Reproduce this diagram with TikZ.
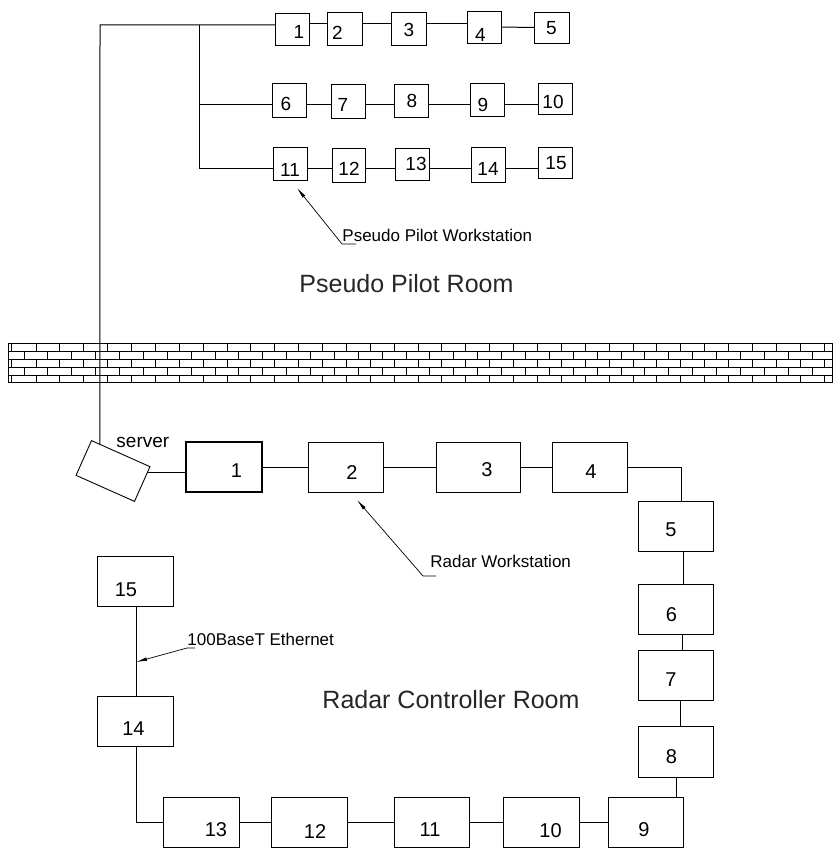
\documentclass[tikz,border=0pt]{standalone}
\usepackage{fontspec}
\setmainfont{Liberation Sans}
\usetikzlibrary{arrows.meta,calc}
\newcommand\bx[8]{% name, cx, cy, w, h, dx, dyup, text
  \node[box, minimum width=#4pt, minimum height=#5pt,
        label={[xshift=#6pt, yshift=#7pt]center:#8}] (#1) at (#2,#3) {};}
\begin{document}
\begin{tikzpicture}[x=1pt,y=-1pt, line width=0.9pt,
  box/.style={draw, inner sep=0pt, outer sep=0pt},
  conn/.style={line width=1pt},
  leader/.style={line width=0.7pt, -{Latex[length=11pt,width=3.6pt]}},
  lbl/.style={font=\fontsize{17}{20}\selectfont, inner sep=0pt, anchor=base west},
  room/.style={font=\fontsize{25}{30}\selectfont, inner sep=0pt, anchor=base west, text=black!85},
  wall/.style={line width=1pt}]
\useasboundingbox (0,0) rectangle (833,851);

% ---------- Pseudo Pilot Room workstations ----------
\begin{scope}[every label/.style={font=\fontsize{19}{22}\selectfont, inner sep=0pt}]
\bx{T1}{292}{29}{34}{32}{7}{-2.5}{1}
\bx{T2}{344.5}{28.5}{35}{33}{-7}{-4.5}{2}
\bx{T3}{408.5}{28.5}{35}{33}{0.5}{-1}{3}
\bx{T4}{484}{27}{34}{32}{-3.5}{-8}{4}
\bx{T5}{551.5}{27.5}{35}{31}{0}{-0.5}{5}
\bx{T6}{289}{100}{34}{34}{-3}{-3.5}{6}
\bx{T7}{348}{101}{34}{34}{-5}{-3.5}{7}
\bx{T8}{411}{100.5}{34}{33}{1}{0}{8}
\bx{T9}{487}{99.5}{34}{33}{-4}{-5}{9}
\bx{T10}{555}{98.5}{34}{31}{-2}{-3}{10}
\bx{T11}{290}{163.5}{34}{33}{0}{-6}{11}
\bx{T12}{348.5}{165}{33}{34}{0.5}{-3.5}{12}
\bx{T13}{412}{164}{34}{32}{4}{0}{13}
\bx{T14}{488}{164.5}{34}{35}{0}{-4}{14}
\bx{T15}{555}{162.5}{34}{31}{1}{-1}{15}
\end{scope}

% row levels
\coordinate (r1) at (0,24);
\coordinate (r2) at (0,104);
\coordinate (r3) at (0,168.5);
\coordinate (cnr) at (100,25);
\coordinate (jt) at (199,25);

\draw[conn] (T1.east |- r1) -- (T2.west |- r1);
\draw[conn] (T2.east |- r1) -- (T3.west |- r1);
\draw[conn] (T3.east |- r1) -- (T4.west |- r1);
\draw[conn] (T4.east) -- (T5.west);
\draw[conn] (T6.east |- r2) -- (T7.west |- r2);
\draw[conn] (T7.east |- r2) -- (T8.west |- r2);
\draw[conn] (T8.east |- r2) -- (T9.west |- r2);
\draw[conn] (T9.east |- r2) -- (T10.west |- r2);
\draw[conn] (T11.east |- r3) -- (T12.west |- r3);
\draw[conn] (T12.east |- r3) -- (T13.west |- r3);
\draw[conn] (T13.east |- r3) -- (T14.west |- r3);
\draw[conn] (T14.east |- r3) -- (T15.west |- r3);
\draw[conn] (jt) -- (jt |- r3) -- (r3 -| T11.west);
\draw[conn] (jt |- r2) -- (r2 -| T6.west);

% leader Pseudo Pilot Workstation
\node[lbl] (ppw) at (342,241) {Pseudo Pilot Workstation};
\coordinate (pptip) at (297,188);
\draw[leader] ([xshift=14pt,yshift=-3pt]ppw.base west) -- ([yshift=-3pt]ppw.base west) -- (pptip);

\node[room] (ppr) at (299,292) {Pseudo Pilot Room};

% ---------- wall ----------
\draw[wall] (8,343) rectangle (832,382);
\foreach \y in {351,359,367,375} \draw[wall] (8,\y) -- (832,\y);
\foreach \ya/\yb in {343/351,359/367,375/382}{
  \draw[wall] (11.7,\ya) -- (11.7,\yb);
  \foreach \k in {0,...,33} \draw[wall] ({36+23.88*\k},\ya) -- ({36+23.88*\k},\yb);
}
\foreach \ya/\yb in {351/359,367/375}{
  \foreach \k in {0,...,33} \draw[wall] ({24+23.88*\k},\ya) -- ({24+23.88*\k},\yb);
}

% ---------- Radar Controller Room ----------
\node[box, minimum width=64pt, minimum height=38pt, rotate=-24] (srv) at (113,471) {};
\node[lbl, font=\fontsize{19}{22}\selectfont] (srvl) at (116,447) {server};

\begin{scope}[every label/.style={font=\fontsize{20}{24}\selectfont, inner sep=0pt}]
\node[box, line width=1.8pt, minimum width=76pt, minimum height=50pt,
      label={[xshift=12.5pt, yshift=-3.5pt]center:1}] (R1) at (224,467) {};
\bx{R2}{345.5}{467}{75}{50}{6.5}{-5.5}{2}
\bx{R3}{478}{467}{84}{50}{9}{-3}{3}
\bx{R4}{589.5}{467}{75}{50}{1.5}{-4.5}{4}
\bx{R5}{675.5}{526}{75}{50}{-4.5}{-4}{5}
\bx{R6}{675.5}{609}{75}{50}{-4}{-6}{6}
\bx{R7}{675.5}{675}{75}{50}{-4.5}{-5}{7}
\bx{R8}{675.5}{751.5}{75}{51}{-4}{-5}{8}
\bx{R9}{645.5}{822}{75}{50}{-1.5}{-7.5}{9}
\bx{R10}{541}{822}{76}{50}{9.5}{-8.5}{10}
\bx{R11}{431.5}{822}{75}{50}{-1.5}{-8}{11}
\bx{R12}{309}{822}{76}{50}{6}{-9.5}{12}
\bx{R13}{201}{822}{76}{50}{15}{-7.5}{13}
\bx{R14}{135}{721}{76}{50}{-1.5}{-7.5}{14}
\bx{R15}{135}{581}{76}{50}{-9}{-8.5}{15}
\end{scope}

% server links
\coordinate (svtop) at ($(srv.north west)!0.145!(srv.north east)$);
\draw[conn] (svtop) -- (cnr) -- (cnr -| T1.west);
\coordinate (sv) at ($(srv.north east)!0.18!(srv.south east)$);
\draw[conn] (sv) -- (sv -| R1.west);

% ring
\coordinate (b1) at (0,467);
\coordinate (b2) at (0,822);
\coordinate (c45) at (681,467);
\coordinate (v56) at (683,0);
\coordinate (v67) at (682,0);
\coordinate (v78) at (680,0);
\coordinate (v89) at (676,0);
\coordinate (c1314) at (136,822);
\draw[conn] (R1.east |- b1) -- (R2.west |- b1);
\draw[conn] (R2.east |- b1) -- (R3.west |- b1);
\draw[conn] (R3.east |- b1) -- (R4.west |- b1);
\draw[conn] (R4.east |- c45) -- (c45) -- (c45 |- R5.north);
\draw[conn] (R5.south -| v56) -- (R6.north -| v56);
\draw[conn] (R6.south -| v67) -- (R7.north -| v67);
\draw[conn] (R7.south -| v78) -- (R8.north -| v78);
\draw[conn] (R8.south -| v89) -- (R9.north -| v89);
\draw[conn] (R9.west |- b2) -- (R10.east |- b2);
\draw[conn] (R10.west |- b2) -- (R11.east |- b2);
\draw[conn] (R11.west |- b2) -- (R12.east |- b2);
\draw[conn] (R12.west |- b2) -- (R13.east |- b2);
\draw[conn] (R13.west |- b2) -- (c1314) -- (c1314 |- R14.south);
\draw[conn] (R14.north -| c1314) -- (R15.south -| c1314);

% leaders
\node[lbl] (rw) at (430,567) {Radar Workstation};
\coordinate (rwtip) at (357,500);
\draw[leader] ([xshift=6pt,yshift=-9pt]rw.base west) -- ([xshift=-7pt,yshift=-9pt]rw.base west) -- (rwtip);

\node[lbl] (eth) at (187,645) {100BaseT Ethernet};
\coordinate (ethtip) at (136,662);
\draw[leader] ([xshift=8pt,yshift=-3pt]eth.base west) -- ([yshift=-3pt]eth.base west) -- (ethtip);

\node[room] (rcr) at (322,708) {Radar Controller Room};
\end{tikzpicture}
\end{document}
